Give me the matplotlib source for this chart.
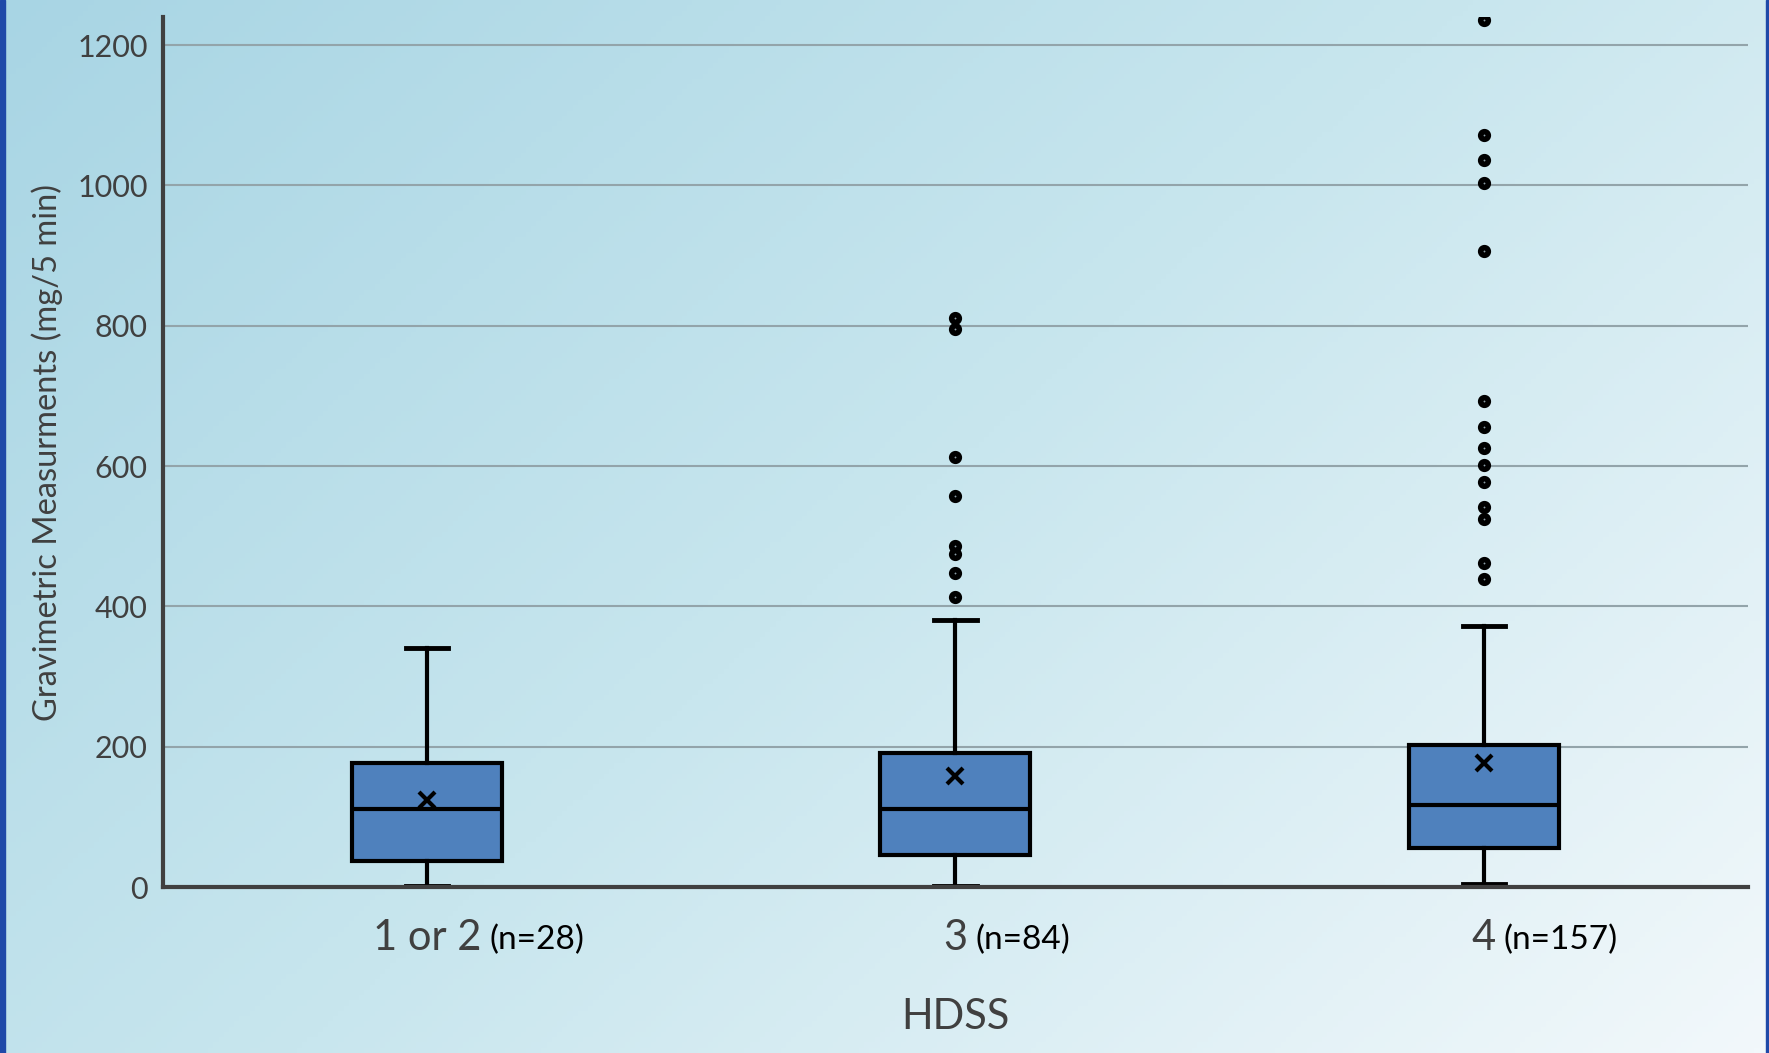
import numpy as np
import matplotlib.pyplot as plt
from matplotlib.colors import LinearSegmentedColormap
from matplotlib.patches import Rectangle

plt.rcParams['font.family'] = ['Lato', 'DejaVu Sans']

# box statistics (mg/5 min)
groups = ["1 or 2", "3", "4"]
counts = ["(n=28)", "(n=84)", "(n=157)"]
q1 = [37, 45, 55]
medians = [111, 111, 117]
q3 = [177, 191, 203]
whisker_low = [2, 2, 5]
whisker_high = [341, 380, 372]
means = [124, 158, 177]
outliers = [
    [],
    [811, 795, 613, 557, 486, 475, 447, 413],
    [1235, 1072, 1036, 1003, 907, 692, 656, 626, 602, 577, 542, 524, 462, 439],
]
yticks = [0, 200, 400, 600, 800, 1000, 1200]

text_grey = "#404040"
box_blue = "#4f81bd"

fig = plt.figure(figsize=(17.69, 10.53), dpi=100)

# diagonal light blue background
bg = fig.add_axes([0, 0, 1, 1], zorder=-10)
h, w = 200, 340
yy, xx = np.mgrid[0:h, 0:w]
grad = (xx / w * 0.6 + yy / h * 0.4)
cmap = LinearSegmentedColormap.from_list("bg", ["#a8d5e4", "#c8e6ee", "#f2f8fb"])
bg.imshow(grad, cmap=cmap, aspect="auto", extent=[0, 1, 0, 1], origin="upper")
bg.set_xlim(0, 1)
bg.set_ylim(0, 1)
bg.axis("off")
fig.add_artist(Rectangle((0, 0), 0.003, 1, transform=fig.transFigure, color="#1f49a8", zorder=5))
fig.add_artist(Rectangle((0.9985, 0), 0.0015, 1, transform=fig.transFigure, color="#1f49a8", zorder=5))

ax = fig.add_axes([0.0921, 0.1576, 0.8960, 0.8263])
ax.patch.set_alpha(0)

stats = []
for i in range(len(groups)):
    stats.append(dict(med=medians[i], q1=q1[i], q3=q3[i], whislo=whisker_low[i],
                      whishi=whisker_high[i], mean=means[i], fliers=outliers[i], label=groups[i]))

positions = np.arange(len(groups))
ax.bxp(stats, positions=positions, widths=0.284, capwidths=0.08, patch_artist=True,
       showmeans=True, zorder=3,
       boxprops=dict(facecolor=box_blue, edgecolor="black", linewidth=3),
       medianprops=dict(color="black", linewidth=3),
       whiskerprops=dict(color="black", linewidth=3),
       capprops=dict(color="black", linewidth=3.5),
       meanprops=dict(marker="x", markeredgecolor="black", markersize=11, markeredgewidth=3),
       flierprops=dict(marker="o", markerfacecolor="#8a9ca4", markeredgecolor="black",
                       markersize=5.5, markeredgewidth=4))

ax.set_xlim(-0.5, 2.5)
ax.set_ylim(0, 1240)
ax.set_yticks(yticks)
ax.set_yticklabels([str(v) for v in yticks])
ax.tick_params(axis="y", length=0, pad=11, labelsize=22, labelcolor=text_grey)
ax.set_xticks([])
ax.grid(axis="y", color="#93a4aa", linewidth=1.5, zorder=0)
ax.set_axisbelow(True)

ax.spines["top"].set_visible(False)
ax.spines["right"].set_visible(False)
ax.spines["left"].set_color(text_grey)
ax.spines["bottom"].set_color(text_grey)
ax.spines["left"].set_linewidth(3)
ax.spines["bottom"].set_linewidth(3)
ax.spines["bottom"].set_zorder(4)

# category labels: large group name followed by a smaller count
for i, g in enumerate(groups):
    big = ax.annotate(g, xy=(positions[i], 0), xycoords=("data", "axes fraction"),
                      xytext=(0, -45), textcoords="offset points",
                      ha="center", va="baseline", fontsize=30, color=text_grey)
    ax.annotate(counts[i], xy=(positions[i], 0), xycoords=("data", "axes fraction"),
                xytext=(0, -45), textcoords="offset points",
                ha="left", va="baseline", fontsize=24, color="black")

fig.canvas.draw()
renderer = fig.canvas.get_renderer()
inv = ax.transData.inverted()
for i, t in enumerate([a for a in ax.texts][0::2]):
    bb = t.get_window_extent(renderer)
    right = inv.transform((bb.x1 + 8, 0))[0]
    ax.texts[2 * i + 1].xy = (right, 0)

ax.set_xlabel("HDSS", fontsize=30, color=text_grey, labelpad=80)
ax.set_ylabel("Gravimetric Measurments (mg/5 min)", fontsize=23.5, color=text_grey, labelpad=10)

fig.savefig("out.png", dpi=100)
